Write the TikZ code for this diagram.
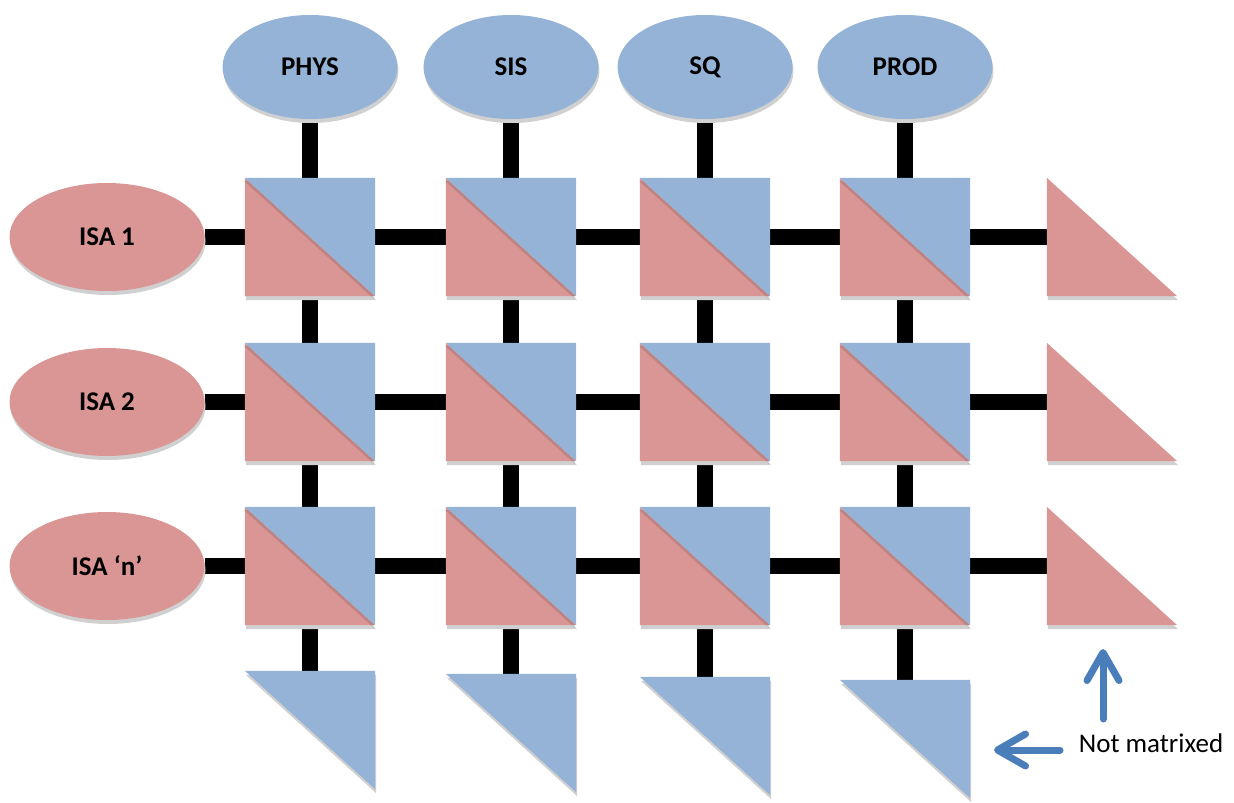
\documentclass[tikz,border=0pt]{standalone}
\usepackage{fontspec}
\setmainfont{Carlito}
\usetikzlibrary{shapes.geometric,shadows,arrows.meta}
\definecolor{cellblue}{HTML}{95B3D7}
\definecolor{cellpink}{HTML}{D99694}
\definecolor{arrowblue}{HTML}{4A7EBB}
\definecolor{shade}{HTML}{D0D0D0}
\pgfdeclarelayer{background}
\pgfsetlayers{background,main}
\begin{document}
\begin{tikzpicture}[x=1pt,y=-1pt,
  softshadow/.style={drop shadow={shadow xshift=1pt,shadow yshift=-4pt,fill=shade,opacity=1}},
  diagshadow/.style={drop shadow={shadow xshift=-1pt,shadow yshift=-3pt,fill=black,opacity=0.12}},
  oval/.style={ellipse,inner sep=0pt,softshadow,font=\fontsize{27}{32}\selectfont\bfseries},
  topoval/.style={oval,fill=cellblue,minimum width=175pt,minimum height=104pt},
  sideoval/.style={oval,fill=cellpink,minimum width=195pt,minimum height=108pt},
  cell/.style={rectangle,inner sep=0pt,minimum width=130pt,minimum height=118pt},
  link/.style={line width=16pt,black},
  pointer/.style={line width=7pt,arrowblue,line cap=round,
    -{Straight Barb[length=28pt,width=32pt,round]}},
  notefont/.style={font=\fontsize{27}{32}\selectfont},
]
\useasboundingbox (0,0) rectangle (1234,803);

% column headers
\node[topoval] (col1) at (310,67) {PHYS};
\node[topoval] (col2) at (511,67) {SIS};
\node[topoval] (col3) at (705,67) {SQ};
\node[topoval] (col4) at (905,67) {PROD};

% row headers
\node[sideoval] (row1) at (107,237) {ISA 1};
\node[sideoval] (row2) at (107,402) {ISA 2};
\node[sideoval] (row3) at (107,566) {ISA ‘n’};

% matrix cells
\foreach \r/\y in {1/237,2/402,3/566}{
  \foreach \c/\x in {1/310,2/511,3/705,4/905}{
    \node[cell] (c\r\c) at (\x,\y) {};
  }
  \node[cell] (tail\r) at (1112,\y) {};
}
% column ends
\node[cell] (foot1) at (310,730) {};
\node[cell] (foot2) at (511,733) {};
\node[cell] (foot3) at (705,736) {};
\node[cell] (foot4) at (905,739) {};

% connectors
\begin{pgfonlayer}{background}
\foreach \c in {1,2,3,4}{
  \draw[link] (col\c) -- (c1\c);
  \draw[link] (c1\c) -- (c2\c);
  \draw[link] (c2\c) -- (c3\c);
  \draw[link] (c3\c) -- (foot\c);
}
\foreach \r in {1,2,3}{
  \draw[link] (row\r) -- (c\r1);
  \draw[link] (c\r1) -- (c\r2);
  \draw[link] (c\r2) -- (c\r3);
  \draw[link] (c\r3) -- (c\r4);
  \draw[link] (c\r4) -- (tail\r);
}
\end{pgfonlayer}

% split cells: pink lower-left, blue upper-right
\foreach \r in {1,2,3}{
  \foreach \c in {1,2,3,4}{
    \fill[cellpink,softshadow] (c\r\c.north west) -- (c\r\c.south west) -- (c\r\c.south east) -- cycle;
    \fill[cellblue,diagshadow] (c\r\c.north west) -- (c\r\c.north east) -- (c\r\c.south east) -- cycle;
  }
  \fill[cellpink,softshadow] (tail\r.north west) -- (tail\r.south west) -- (tail\r.south east) -- cycle;
}
\foreach \c in {1,2,3,4}{
  \fill[cellblue,softshadow] (foot\c.north west) -- (foot\c.north east) -- (foot\c.south east) -- cycle;
}

% legend
\node[notefont] (note) at (1151,743) {Not matrixed};
\coordinate (upfrom) at (1103,719);
\coordinate (upto) at (1103,649);
\coordinate (leftfrom) at (1060,750);
\coordinate (leftto) at (994,750);
\draw[pointer] (upfrom) -- (upto);
\draw[pointer] (leftfrom) -- (leftto);
\end{tikzpicture}
\end{document}
